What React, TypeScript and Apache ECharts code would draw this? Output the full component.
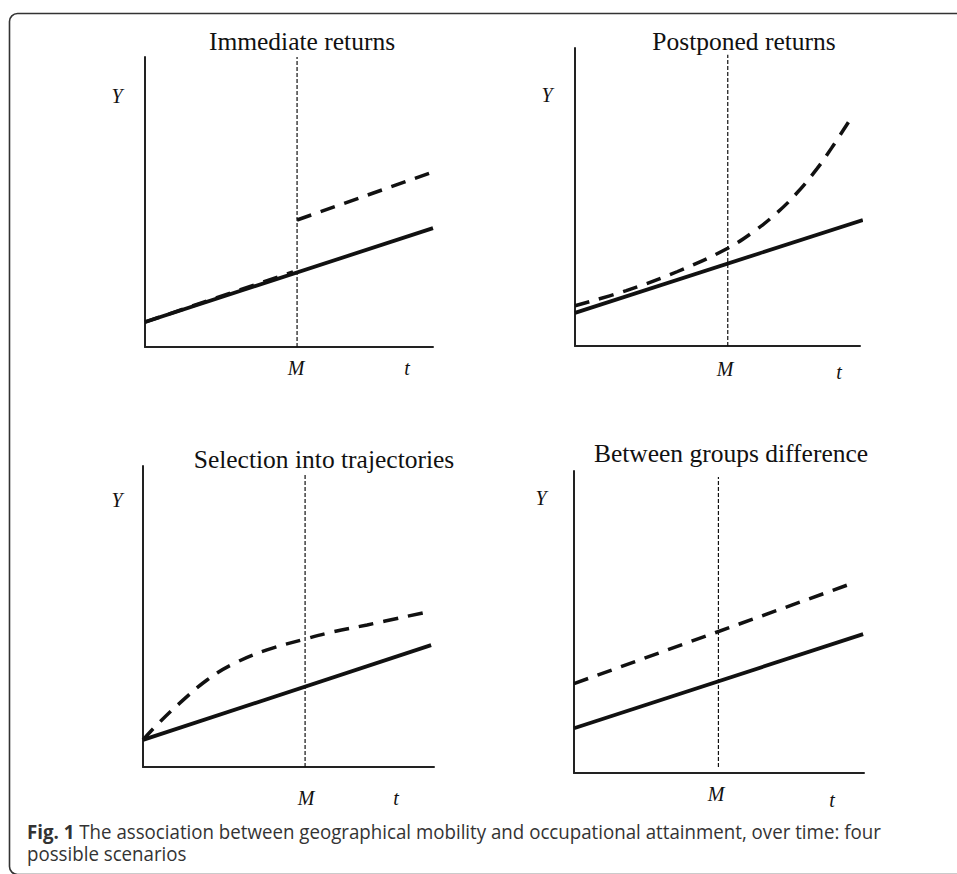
import React, { useEffect, useRef } from "react";
import * as echarts from "echarts";

// ---- data (axis units 0..100 in each panel) ----
const panelTitles = ["Immediate returns", "Postponed returns", "Selection into trajectories", "Between groups difference"];
const mPositions = [52.8, 53.6, 55.7, 49.8];
const mLineSpans = [[0, 100], [0, 97.7], [0, 97], [2, 98]];

// Panel 1 – Immediate returns
const p1Solid = [[0, 8.6], [100, 41.0]];
const p1DashBefore = [[0, 8.6], [51.4, 25.9]];
const p1DashAfter = [[52.8, 43.8], [103.8, 61.7]];

// Panel 2 – Postponed returns
const p2Solid = [[0, 11.1], [101, 42.3]];
const p2Dash = [[0, 13.5], [18, 18.6], [36, 25.0], [53.6, 32.8], [63, 38.6], [71, 44.8], [78, 51.5], [85, 59.6], [90, 66.4], [96.4, 75.8]];

// Panel 3 – Selection into trajectories
const p3Solid = [[0, 9.0], [99, 40.5]];
const p3Dash = [[0, 9.0], [4.8, 14.0], [12.7, 21.3], [22, 28.9], [30.9, 34.2], [42.6, 38.9], [55.7, 42.5], [65.3, 44.9], [77, 47.2], [96.2, 51.2]];

// Panel 4 – Between groups difference
const p4Solid = [[0, 14.8], [99.7, 46.0]];
const p4Dash = [[0, 29.6], [95.9, 62.8]];

const captionLine1Bold = "Fig. 1";
const captionLine1 = " The association between geographical mobility and occupational attainment, over time: four";
const captionLine2 = "possible scenarios";

const grids = [
  { left: 145, top: 57, width: 288, height: 290 },
  { left: 575, top: 48, width: 285, height: 298 },
  { left: 143, top: 466, width: 291, height: 301 },
  { left: 574, top: 471, width: 290, height: 302 },
];

const titlePos = [[302, 41], [744, 41], [324, 459], [731, 453]];
const yLabelPos = [[117, 96], [547, 95], [117, 500], [541, 498]];
const mLabelPos = [[296, 368], [725, 369], [306, 798], [716, 794]];
const tLabelPos = [[407, 368], [839, 372], [396, 798], [832, 800]];

export default function App() {
  const ref = useRef<HTMLDivElement>(null);
  useEffect(() => {
    if (!ref.current) return;
    const chart = echarts.init(ref.current, null, { renderer: "svg" });
    const serif = "'Liberation Serif', 'Times New Roman', serif";

    const solidStyle = { color: "#111", width: 3.8, type: "solid" as const };
    const dashStyle = { color: "#111", width: 3.5, type: [15, 10] as any };
    const mStyle = { color: "#111", width: 1.2, type: [4, 2] as any };

    const mk = (gi: number, data: number[][], style: any, smooth: any = false) => ({
      type: "line",
      xAxisIndex: gi,
      yAxisIndex: gi,
      data,
      smooth,
      showSymbol: false,
      symbol: "none",
      clip: false,
      silent: true,
      lineStyle: style,
    });

    const series: any[] = [];
    const sets: any[][] = [
      [[p1Solid, solidStyle], [p1DashBefore, dashStyle], [p1DashAfter, dashStyle]],
      [[p2Solid, solidStyle], [p2Dash, dashStyle, 0.4]],
      [[p3Solid, solidStyle], [p3Dash, dashStyle, 0.4]],
      [[p4Solid, solidStyle], [p4Dash, dashStyle]],
    ];
    sets.forEach((s, gi) => {
      const m = mPositions[gi];
      series.push(mk(gi, [[m, mLineSpans[gi][0]], [m, mLineSpans[gi][1]]], mStyle));
      s.forEach(([d, st, sm]) => series.push(mk(gi, d, st, sm || false)));
    });

    const graphics: any[] = [
      {
        type: "rect",
        shape: { x: 9.5, y: 13.5, width: 1000, height: 861, r: 8 },
        style: { fill: "none", stroke: "#333", lineWidth: 1.6 },
        silent: true,
      },
    ];
    const txt = (x: number, y: number, text: string, font: string, size: number, italic = false) => ({
      type: "text",
      x,
      y,
      style: {
        text,
        fontFamily: font,
        fontSize: size,
        fontStyle: italic ? "italic" : "normal",
        fill: "#111",
        align: "center",
        verticalAlign: "middle",
      },
      silent: true,
    });
    for (let i = 0; i < 4; i++) {
      graphics.push(txt(titlePos[i][0], titlePos[i][1], panelTitles[i], serif, 25.5));
      graphics.push(txt(yLabelPos[i][0], yLabelPos[i][1], "Y", serif, 20, true));
      graphics.push(txt(mLabelPos[i][0], mLabelPos[i][1], "M", serif, 20, true));
      graphics.push(txt(tLabelPos[i][0], tLabelPos[i][1], "t", serif, 20, true));
    }
    const capFont = "'Open Sans', sans-serif";
    graphics.push({
      type: "text",
      x: 27,
      y: 831,
      scaleX: 0.935,
      style: {
        text: "{b|" + captionLine1Bold + "}" + captionLine1,
        fontFamily: capFont,
        fontSize: 20,
        fill: "#333",
        align: "left",
        verticalAlign: "middle",
        rich: { b: { fontWeight: "bold", fontFamily: capFont, fontSize: 20, fill: "#333" } },
      },
      silent: true,
    });
    graphics.push({
      type: "text",
      x: 27,
      y: 853,
      scaleX: 0.935,
      style: {
        text: captionLine2,
        fontFamily: capFont,
        fontSize: 20,
        fill: "#333",
        align: "left",
        verticalAlign: "middle",
      },
      silent: true,
    });

    const axisLine = { show: true, onZero: false, lineStyle: { color: "#222", width: 2 } };
    chart.setOption({
      animation: false,
      backgroundColor: "#fff",
      grid: grids.map((g) => ({ ...g, containLabel: false })),
      xAxis: grids.map((_, i) => ({
        type: "value",
        gridIndex: i,
        min: 0,
        max: 100,
        axisLine,
        axisTick: { show: false },
        axisLabel: { show: false },
        splitLine: { show: false },
      })),
      yAxis: grids.map((_, i) => ({
        type: "value",
        gridIndex: i,
        min: 0,
        max: 100,
        axisLine,
        axisTick: { show: false },
        axisLabel: { show: false },
        splitLine: { show: false },
      })),
      series,
      graphic: graphics,
    });
    return () => chart.dispose();
  }, []);
  return <div ref={ref} style={{ position: "fixed", left: 0, top: 0, width: 957, height: 874 }} />;
}
